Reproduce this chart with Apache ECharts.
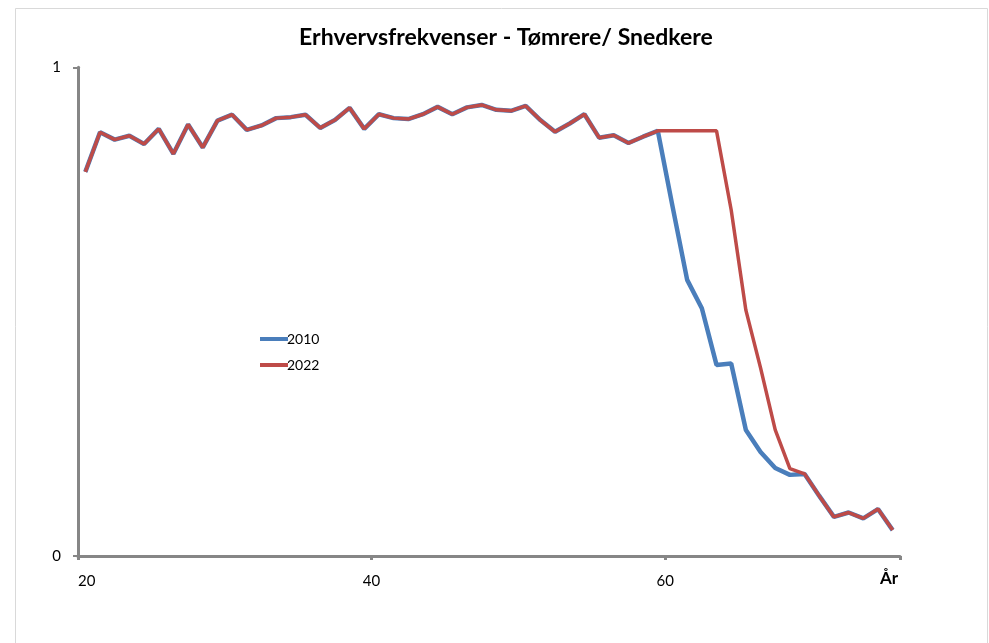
<!DOCTYPE html>
<html>
<head>
<meta charset="utf-8">
<script src="https://cdn.jsdelivr.net/npm/echarts@6/dist/echarts.min.js"></script>
<style>
html,body{margin:0;padding:0;background:#fff;}
#chart{width:989px;height:643px;}
</style>
</head>
<body>
<div id="chart"></div>
<script>
// Ages (x positions are centred within each year)
var ages = [20,21,22,23,24,25,26,27,28,29,30,31,32,33,34,35,36,37,38,39,40,41,42,43,44,45,46,47,48,49,50,51,52,53,54,55,56,57,58,59,60,61,62,63,64,65,66,67,68,69,70,71,72,73,74,75];
var values2010 = [0.786,0.867,0.852,0.860,0.843,0.874,0.823,0.883,0.836,0.891,0.903,0.872,0.881,0.896,0.898,0.903,0.876,0.892,0.917,0.874,0.904,0.896,0.894,0.904,0.919,0.904,0.918,0.923,0.913,0.911,0.921,0.892,0.868,0.885,0.904,0.856,0.861,0.845,0.858,0.870,0.716,0.565,0.507,0.391,0.394,0.258,0.213,0.180,0.166,0.168,0.123,0.080,0.089,0.077,0.096,0.053];
var values2022 = [0.786,0.867,0.852,0.860,0.843,0.874,0.823,0.883,0.836,0.891,0.903,0.872,0.881,0.896,0.898,0.903,0.876,0.892,0.917,0.874,0.904,0.896,0.894,0.904,0.919,0.904,0.918,0.923,0.913,0.911,0.921,0.892,0.868,0.885,0.904,0.856,0.861,0.845,0.858,0.870,0.870,0.870,0.870,0.870,0.708,0.503,0.385,0.258,0.179,0.168,0.123,0.080,0.089,0.077,0.096,0.053];
var seriesNames = ['2010','2022'];
var titleText = 'Erhvervsfrekvenser - Tømrere/ Snedkere';
var xAxisTitle = 'År';

function pairs(vals){ return ages.map(function(a,i){ return [a + 0.5, vals[i]]; }); }

var chart = echarts.init(document.getElementById('chart'), null, {renderer:'canvas'});
var axisGray = '#868686';
chart.setOption({
  backgroundColor:'#ffffff',
  animation:false,
  title:{text:titleText, left:501, top:21, textAlign:'center',
    textStyle:{fontFamily:'Lato', fontWeight:'bold', fontSize:23, color:'#000'}},
  legend:{orient:'vertical', left:255, top:327, itemWidth:28, itemHeight:4, itemGap:12,
    icon:'rect', data:seriesNames,
    textStyle:{fontFamily:'Lato', fontSize:14, color:'#000', padding:[0,0,0,-6]}},
  grid:{left:78, right:89, top:67.3, bottom:87, containLabel:false},
  xAxis:{type:'value', min:20, max:76, interval:20,
    axisLine:{show:true, lineStyle:{color:axisGray, width:3}},
    axisTick:{show:true, length:4, lineStyle:{color:axisGray, width:3}},
    splitLine:{show:false},
    axisLabel:{margin:18, alignMinLabel:'left', fontFamily:'Lato', fontSize:15, color:'#000',
      formatter:function(v){ return (v===20||v===40||v===60)? String(v) : ''; }}},
  yAxis:{type:'value', min:0, max:1, interval:1,
    axisLine:{show:true, lineStyle:{color:axisGray, width:3}},
    axisTick:{show:true, length:5, lineStyle:{color:axisGray, width:2}},
    splitLine:{show:false},
    axisLabel:{margin:17, fontFamily:'Lato', fontSize:15, color:'#000'}},
  graphic:[
    {type:'rect', shape:{x:15.5, y:8.5, width:972, height:660}, style:{fill:'none', stroke:'#d9d9d9', lineWidth:1}, z:-10},
    {type:'text', left:880, top:570, style:{text:xAxisTitle, font:'bold 17px Lato', fill:'#000'}}
  ],
  series:[
    {name:seriesNames[0], type:'line', data:pairs(values2010), showSymbol:false, symbol:'none',
      lineStyle:{color:'#4a7ebb', width:4.5}, itemStyle:{color:'#4a7ebb'}, z:2},
    {name:seriesNames[1], type:'line', data:pairs(values2022), showSymbol:false, symbol:'none',
      lineStyle:{color:'#be4b48', width:3.5}, itemStyle:{color:'#be4b48'}, z:3}
  ]
});
</script>
</body>
</html>
